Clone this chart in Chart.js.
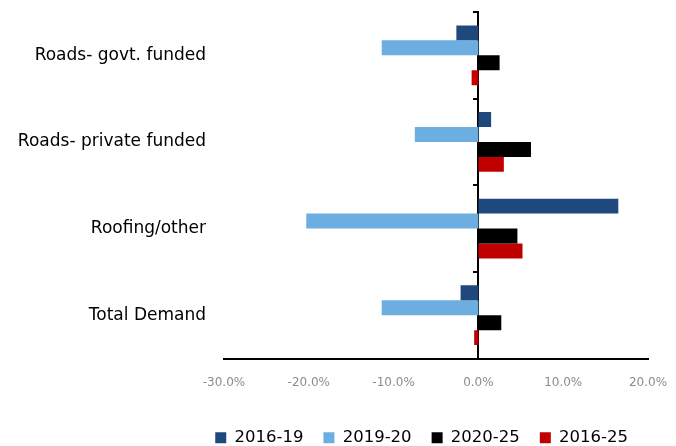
<!DOCTYPE html>
<html lang="en">
<head>
    <meta charset="UTF-8">
    <title>Demand growth by segment</title>
    <script src="https://cdn.jsdelivr.net/npm/chart.js"></script>
    <style>
        body {
            margin: 0;
            padding: 0;
            background: #fff;
        }
        #chart-container {
            width: 676px;
            height: 446px;
        }
    </style>
</head>
<body>
    <div id="chart-container">
        <canvas id="myChart"></canvas>
    </div>
    <script>
        // categories and series (% change)
        const categories = ['Roads- govt. funded', 'Roads- private funded', 'Roofing/other', 'Total Demand'];
        const seriesNames = ['2016-19', '2019-20', '2020-25', '2016-25'];
        const v2016_19 = [-2.6, 1.5, 16.5, -2.1];
        const v2019_20 = [-11.4, -7.5, -20.3, -11.4];
        const v2020_25 = [2.5, 6.2, 4.6, 2.7];
        const v2016_25 = [-0.8, 3.0, 5.2, -0.5];
        const xTicks = [-30, -20, -10, 0, 10, 20];

        const colors = ['#1F497D', '#6CAEE0', '#000000', '#C00000'];
        const allValues = [v2016_19, v2019_20, v2020_25, v2016_25];

        const font = 'DejaVu Sans';

        // keep the plot box where the reference has it
        function noPad(scale) {
            scale.paddingTop = 0;
            scale.paddingBottom = 0;
            scale.paddingLeft = 0;
            scale.paddingRight = 0;
        }

        const ctx = document.getElementById('myChart').getContext('2d');
        const myChart = new Chart(ctx, {
            type: 'bar',
            data: {
                labels: categories,
                datasets: seriesNames.map((name, i) => ({
                    label: name,
                    data: allValues[i],
                    backgroundColor: colors[i],
                    borderWidth: 0,
                    categoryPercentage: 0.69,
                    barPercentage: 1.0
                }))
            },
            options: {
                indexAxis: 'y',
                responsive: true,
                maintainAspectRatio: false,
                animation: false,
                layout: {
                    padding: { top: 12, right: 28, left: 0, bottom: -10 }
                },
                scales: {
                    x: {
                        min: xTicks[0],
                        max: xTicks[xTicks.length - 1],
                        afterBuildTicks: (scale) => {
                            scale.ticks = xTicks.map(v => ({ value: v }));
                        },
                        afterFit: (scale) => { scale.height = 51; noPad(scale); },
                        grid: { display: false, drawTicks: false },
                        border: { display: true, color: '#000', width: 2 },
                        ticks: {
                            padding: 17,
                            color: '#8c8c8c',
                            font: { family: font, size: 12 },
                            callback: (value) => Number(value).toFixed(1) + '%'
                        }
                    },
                    y: {
                        afterFit: (scale) => { scale.width = 224; noPad(scale); },
                        grid: { display: false, drawTicks: false },
                        border: { display: false },
                        ticks: {
                            padding: 18,
                            color: '#000',
                            font: { family: font, size: 17 }
                        }
                    },
                    y2: {
                        type: 'category',
                        position: { x: 0 },
                        offset: true,
                        afterFit: noPad,
                        grid: {
                            drawOnChartArea: false,
                            drawTicks: true,
                            tickLength: 4,
                            color: '#000',
                            lineWidth: 2,
                            offset: true
                        },
                        border: { display: true, color: '#000', width: 2 },
                        ticks: { display: false }
                    }
                },
                plugins: {
                    legend: {
                        display: true,
                        position: 'bottom',
                        align: 'end',
                        labels: {
                            boxWidth: 11,
                            boxHeight: 11,
                            padding: 20,
                            color: '#000',
                            font: { family: font, size: 16.5 }
                        }
                    },
                    tooltip: { enabled: false }
                }
            }
        });
    </script>
</body>
</html>
